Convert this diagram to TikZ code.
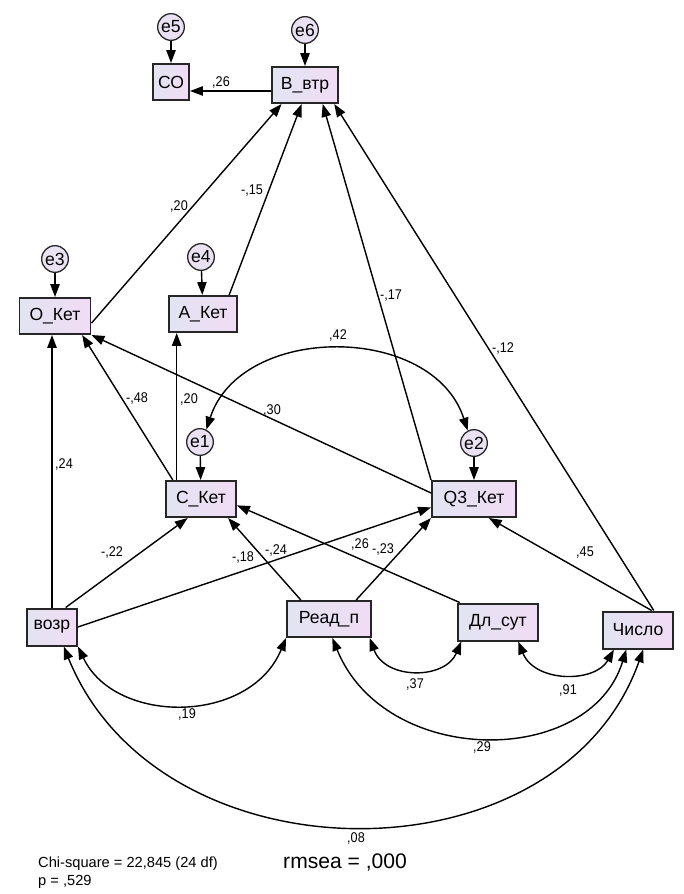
\documentclass[tikz,border=0pt]{standalone}
\usepackage{fontspec}
\setmainfont{Liberation Sans}
\newfontfamily\narrowfont[FakeStretch=0.9]{Liberation Sans}
\usetikzlibrary{arrows.meta}
\definecolor{boxl}{RGB}{226,228,242}
\definecolor{boxr}{RGB}{241,220,245}
\definecolor{errc}{RGB}{234,226,243}
\tikzset{>={Triangle[length=11pt,width=8pt]}}
\tikzset{
    obs/.style={draw=black!85, line width=1.7pt, rectangle, left color=boxl, right color=boxr,
        minimum height=1.08cm, inner sep=0pt, font=\fontsize{15}{17}\selectfont},
    err/.style={draw=black!85, line width=1.1pt, circle, fill=errc, minimum size=0.8cm,
        inner sep=0pt, font=\fontsize{15}{17}\selectfont},
    reg/.style={->, line width=1.2pt},
    cov/.style={<->, line width=1.2pt},
    lbl/.style={inner sep=0pt, font=\narrowfont\fontsize{12}{14}\selectfont},
}

\begin{document}
\begin{tikzpicture}[x=0.03cm, y=-0.03cm]
    \useasboundingbox (0,0) rectangle (684,894);
    \node[err] (e5) at (171,27) {e5};
    \node[err] (e6) at (305,30) {e6};
    \node[obs, minimum width=1.08cm] (co) at (171,82) {СО};
    \node[obs, minimum width=1.98cm] (vtr) at (305,85) {В\_втр};
    \node[err] (e3) at (55,259) {e3};
    \node[err] (e4) at (201,257) {e4};
    \node[obs, minimum width=2.13cm] (oket) at (55,316) {О\_Кет};
    \node[obs, minimum width=2.04cm] (aket) at (203,314) {А\_Кет};
    \node[err] (e1) at (200,442) {e1};
    \node[err] (e2) at (474,443) {e2};
    \node[obs, minimum width=2.1cm] (cket) at (201,499) {С\_Кет};
    \node[obs, minimum width=2.52cm] (qket) at (474,499) {Q3\_Кет};
    \node[obs, minimum width=1.5cm, minimum height=1.11cm] (vozr) at (52,627) {возр};
    \node[obs, minimum width=2.52cm] (read) at (329,619) {Реад\_п};
    \node[obs, minimum width=2.4cm, minimum height=1.11cm] (dlsut) at (498,622) {Дл\_сут};
    \node[obs, minimum width=2.1cm, minimum height=1.11cm] (chislo) at (638,630) {Число};

    \draw[reg] (e5) -- (co);
    \draw[reg] (e6) -- (vtr);
    \draw[reg] (e3) -- (oket);
    \draw[reg] (e4) -- (aket);
    \draw[reg] (e1) -- (cket);
    \draw[reg] (e2) -- (qket);
    \draw[reg] (vtr.190) -- (vtr.190 -| co.east);
    \draw[reg] (oket.-11) -- (vtr.219);
    \draw[reg] (aket.36) -- (vtr.260);
    \draw[reg] (qket.north west) -- (vtr.-47);
    \draw[reg] (chislo.51) -- (vtr.-33);
    \draw[reg] (chislo.55) -- (qket.-52);
    \draw[reg] (cket.146) -- (oket.-35);
    \draw[reg] (cket.142) -- (cket.142 |- aket.south);
    \draw[reg] (qket.172) -- (oket.south east);
    \draw[reg] (vozr.north) -- (vozr.north |- oket.south);
    \draw[reg] (vozr.55) -- (cket.235);
    \draw[reg] (vozr.east) -- (qket.191);
    \draw[reg] (read.146) -- (cket.-35);
    \draw[reg] (dlsut.153) -- (cket.-10);
    \draw[reg] (read.35) -- (qket.south west);

    \draw[cov] (e1.63) .. controls (241,323) and (433,323) .. (e2.117);
    \draw[cov] (vozr.south east) .. controls (115,725) and (250,725) .. (read.south west);
    \draw[cov] (read.-25) .. controls (385,680) and (445,680) .. (dlsut.208);
    \draw[cov] (dlsut.-44) .. controls (535,683) and (595,683) .. (chislo.219);
    \draw[cov] (read.-80) .. controls (385,768) and (590,768) .. (chislo.239);
    \draw[cov] (vozr.-59) .. controls (160,885) and (560,885) .. (chislo.-75);

    \node[lbl] (w1) at (221,82) {,26};
    \node[lbl] (w2) at (179,206) {,20};
    \node[lbl] (w3) at (252,191) {-,15};
    \node[lbl] (w4) at (391,296) {-,17};
    \node[lbl] (w5) at (503,348) {-,12};
    \node[lbl] (w6) at (137,398) {-,48};
    \node[lbl] (w7) at (189,399) {,20};
    \node[lbl] (w8) at (272,410) {,30};
    \node[lbl] (w9) at (64,464) {,24};
    \node[lbl] (w10) at (112,552) {-,22};
    \node[lbl] (w11) at (243,557) {-,18};
    \node[lbl] (w12) at (276,550) {-,24};
    \node[lbl] (w13) at (360,544) {,26};
    \node[lbl] (w14) at (383,549) {-,23};
    \node[lbl] (w15) at (585,553) {,45};
    \node[lbl] (w16) at (338,335) {,42};
    \node[lbl] (w17) at (187,714) {,19};
    \node[lbl] (w18) at (415,684) {,37};
    \node[lbl] (w19) at (568,690) {,91};
    \node[lbl] (w20) at (482,747) {,29};
    \node[lbl] (w21) at (356,838) {,08};

    \node[anchor=west, inner sep=0pt, font=\fontsize{12.5}{14}\selectfont] (chi) at (38,864) {Chi-square = 22,845 (24 df)};
    \node[anchor=west, inner sep=0pt, font=\fontsize{12.5}{14}\selectfont] (pval) at (38,882) {p = ,529};
    \node[anchor=west, inner sep=0pt, font=\fontsize{18}{20}\selectfont] (rmsea) at (283,862) {rmsea = ,000};
\end{tikzpicture}
\end{document}
